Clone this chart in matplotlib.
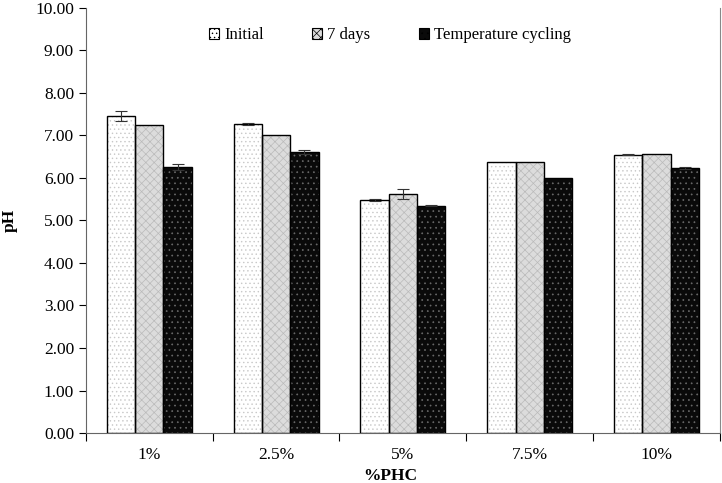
import numpy as np
import matplotlib
matplotlib.use("Agg")
import matplotlib.pyplot as plt
from matplotlib.patches import Patch
from matplotlib.ticker import FormatStrFormatter

plt.rcParams['font.family'] = ['Liberation Serif', 'DejaVu Serif']
plt.rcParams['hatch.linewidth'] = 0.5

# data
categories = ["1%", "2.5%", "5%", "7.5%", "10%"]
series_names = ["Initial", "7 days", "Temperature cycling"]
initial = [7.45, 7.27, 5.49, 6.38, 6.55]
seven_days = [7.25, 7.00, 5.62, 6.38, 6.57]
temp_cycling = [6.26, 6.61, 5.35, 6.00, 6.23]
initial_err = [0.12, 0.03, 0.02, 0.0, 0.02]
seven_days_err = [0.0, 0.0, 0.12, 0.0, 0.0]
temp_cycling_err = [0.08, 0.04, 0.02, 0.0, 0.03]

values = [initial, seven_days, temp_cycling]
errors = [initial_err, seven_days_err, temp_cycling_err]
# (face, hatch colour, hatch)
styles = [("#ffffff", "#c8c8c8", "...."),
          ("#dcdcdc", "#bababa", "xxxx"),
          ("#0a0a0a", "#6a6a6a", "...")]

fig = plt.figure(figsize=(7.22, 4.83), dpi=100)
ax = fig.add_axes([0.119, 0.1035, 0.878, 0.880])

x = np.arange(len(categories))
width = 0.223
offsets = [-width, 0, width]

for vals, errs, off, (face, hcol, hatch) in zip(values, errors, offsets, styles):
    # filled + hatched layer
    ax.bar(x + off, vals, width, color=face, edgecolor=hcol, hatch=hatch, linewidth=0, zorder=2)
    # outline
    ax.bar(x + off, vals, width, fill=False, edgecolor="black", linewidth=1.0, zorder=3)
    e = np.array(errs)
    m = e > 0
    ax.errorbar((x + off)[m], np.array(vals)[m], yerr=e[m], fmt="none", ecolor="#333333",
                elinewidth=0.8, capsize=4, capthick=0.8, zorder=4)

ax.set_xlim(-0.5, len(categories) - 0.5)
ax.set_ylim(0, 10)
ax.set_yticks(np.arange(0, 10.01, 1))
ax.yaxis.set_major_formatter(FormatStrFormatter("%.2f"))
ax.set_xticks(x)
ax.set_xticklabels(categories)
ax.set_xticks(np.arange(-0.5, len(categories), 1), minor=True)
ax.tick_params(axis='x', which='major', length=0, labelsize=12.5, pad=10)
ax.tick_params(axis='x', which='minor', length=6, direction='out', width=0.8)
ax.tick_params(axis='y', length=5, direction='out', labelsize=12.5, width=0.8)

ax.spines["top"].set_visible(False)
ax.spines["right"].set_color("#888888")
ax.spines["left"].set_color("#666666")
ax.spines["bottom"].set_color("#666666")

ax.set_xlabel("%PHC", fontsize=12.5, fontweight="bold")
ax.set_ylabel("pH", fontsize=12.5, fontweight="bold")
ax.xaxis.set_label_coords(0.48, -0.083)
ax.yaxis.set_label_coords(-0.107, 0.5)

handles = [Patch(facecolor=s[0], edgecolor="black", hatch=s[2], linewidth=0.8) for s in styles]
ax.legend(handles, series_names, loc="upper center", bbox_to_anchor=(0.48, 0.99), ncol=3,
          frameon=False, fontsize=12, handlelength=0.6, handleheight=0.6, handletextpad=0.3,
          columnspacing=2.9)

fig.savefig("out.png", dpi=100)
